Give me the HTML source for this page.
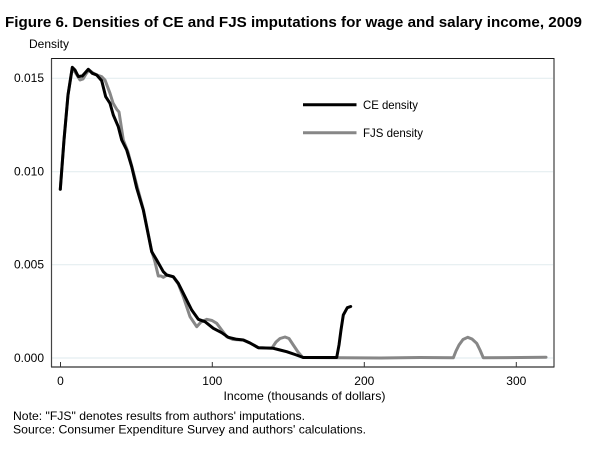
<!DOCTYPE html>
<html>
<head>
<meta charset="utf-8">
<style>
html,body{margin:0;padding:0;background:#fff;}
svg{display:block;}
text{font-family:"Liberation Sans",Arial,sans-serif;fill:#000;}
</style>
</head>
<body>
<svg width="600" height="450" viewBox="0 0 600 450" xmlns="http://www.w3.org/2000/svg">
  <rect x="0" y="0" width="600" height="450" fill="#fff"/>
  <!-- Title -->
  <text x="5" y="27" font-size="14.5" font-weight="bold" textLength="577" lengthAdjust="spacingAndGlyphs">Figure 6. Densities of CE and FJS imputations for wage and salary income, 2009</text>
  <text x="29" y="48" font-size="12" textLength="40" lengthAdjust="spacingAndGlyphs">Density</text>

  <!-- gridlines -->
  <g stroke="#e4eef0" stroke-width="1.2">
    <line x1="52" y1="78.3" x2="553" y2="78.3"/>
    <line x1="52" y1="171.7" x2="553" y2="171.7"/>
    <line x1="52" y1="264.7" x2="553" y2="264.7"/>
    <line x1="52" y1="358" x2="553" y2="358"/>
  </g>

  <!-- plot box -->
  <rect x="51.5" y="58.5" width="502.5" height="308.5" fill="none" stroke="#1a1a1a" stroke-width="1"/>
  <line x1="51.5" y1="58.5" x2="51.5" y2="367" stroke="#444" stroke-width="1.2"/>
  <line x1="51.5" y1="367" x2="554" y2="367" stroke="#333" stroke-width="1.2"/>

  <!-- x ticks -->
  <g stroke="#333" stroke-width="1">
    <line x1="60.5" y1="362" x2="60.5" y2="367"/>
    <line x1="212.3" y1="362" x2="212.3" y2="367"/>
    <line x1="364.3" y1="362" x2="364.3" y2="367"/>
    <line x1="516.3" y1="362" x2="516.3" y2="367"/>
  </g>

  <!-- y labels -->
  <g font-size="12" text-anchor="end">
    <text x="44" y="82">0.015</text>
    <text x="44" y="175.5">0.010</text>
    <text x="44" y="268.5">0.005</text>
    <text x="44" y="362">0.000</text>
  </g>
  <!-- x labels -->
  <g font-size="12" text-anchor="middle">
    <text x="60.5" y="385">0</text>
    <text x="212.3" y="385">100</text>
    <text x="364.3" y="385">200</text>
    <text x="516.3" y="385">300</text>
  </g>
  <text x="223.5" y="400" font-size="12" textLength="162" lengthAdjust="spacingAndGlyphs">Income (thousands  of dollars)</text>

  <!-- FJS density (gray) -->
  <path fill="none" stroke="#878787" stroke-width="3" stroke-linejoin="round" stroke-linecap="round"
    d="M60.3,189.3 L64,140 L68,95 L72.3,68 L75,72 L80,80 L83,79 L86,74 L89,70 L93,73 L97,75 L101.7,76.7 L105,80 L110,93.3 L113,103 L116.7,109.3 L119,112 L121,125 L123.3,140 L128,152 L132,167 L137,186 L143.5,210 L151.7,251 L155,262 L158.3,276 L161,276 L163.3,277.3 L167,275 L173.3,277 L178.3,284 L183.3,296.7 L190,316.7 L196.7,326.7 L201,322 L206.7,319.3 L212,320.5 L216.7,323.3 L221.7,330 L226.7,336.7 L233,339.5 L243.3,340 L250,343 L258.3,347.7 L266,348 L272,348 L276,342 L280,338.5 L285,337 L289,338.5 L293.3,345 L298,352 L302.7,357.5 L380,358 L420,357.5 L453.3,357.8 L456,351 L459,345 L463,339.5 L467.7,337.3 L472,339 L476.7,343.3 L480,350 L483.3,357.8 L546,357.3"/>

  <!-- CE density (black) -->
  <path fill="none" stroke="#000" stroke-width="3" stroke-linejoin="round" stroke-linecap="round"
    d="M60.3,189.3 L64,140 L68,95 L72.3,67.3 L75,70 L78.3,76.5 L82.3,76 L85,73 L88.3,69.3 L92.3,73.3 L96.7,75 L101.7,80.7 L105.7,96.7 L110,103.3 L113.3,115 L118.3,126.7 L121.7,140 L126.7,150 L131.7,166.7 L136.7,188 L143.3,210 L151.7,251.7 L156.7,260 L163.3,271.7 L166.7,275 L173.3,276.7 L178.3,283.3 L185,296.7 L191.7,310 L198.3,319.3 L205,321.7 L213.3,328.3 L221.7,332.7 L228.3,337.3 L236.7,339.3 L243.3,340 L250,343 L258.3,347.7 L266,348 L273.3,348.3 L280,350 L286.7,351.7 L295,354.5 L303.3,357.5 L336.7,357.5 L339,345 L341,330 L343.3,315 L347.3,307.7 L350.7,306.5"/>

  <!-- legend -->
  <line x1="303" y1="104.7" x2="356.5" y2="104.7" stroke="#000" stroke-width="3"/>
  <text x="363" y="109" font-size="12" textLength="55" lengthAdjust="spacingAndGlyphs">CE density</text>
  <line x1="303" y1="132.7" x2="356.5" y2="132.7" stroke="#878787" stroke-width="3"/>
  <text x="363" y="137" font-size="12" textLength="60" lengthAdjust="spacingAndGlyphs">FJS density</text>

  <!-- notes -->
  <text x="13" y="420" font-size="12" textLength="292" lengthAdjust="spacingAndGlyphs">Note: "FJS" denotes results from authors' imputations.</text>
  <text x="13" y="433.5" font-size="12" textLength="353" lengthAdjust="spacingAndGlyphs">Source: Consumer Expenditure  Survey and authors' calculations.</text>
</svg>
</body>
</html>
